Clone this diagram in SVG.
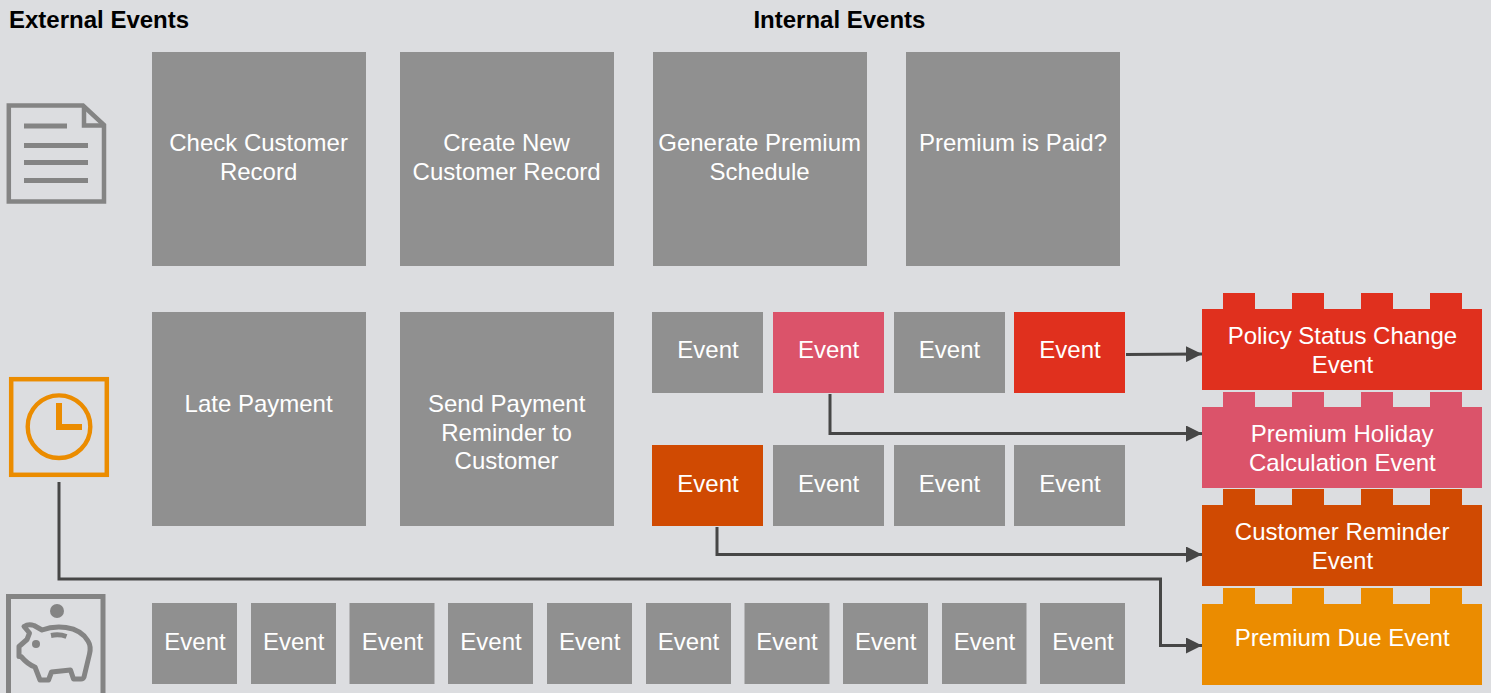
<svg xmlns="http://www.w3.org/2000/svg" width="1491" height="693" viewBox="0 0 1491 693">
<style>
text{font-family:"Liberation Sans",Arial,sans-serif}
.h{font-size:24px;font-weight:700;fill:#000}
.t{font-size:24px;fill:#fff;text-anchor:middle}
.g{fill:#909090}
.red{fill:#e0301e}.pink{fill:#db536a}.rust{fill:#d04a02}.amber{fill:#eb8c00}
.c{fill:none;stroke:#464646;stroke-width:3}
.ig{fill:none;stroke:#848484}
</style>
<defs>
<marker id="a" markerUnits="userSpaceOnUse" markerWidth="16" markerHeight="16" refX="16" refY="8" orient="auto"><path d="M0 0L16 8L0 16Z" fill="#464646"/></marker>
<path id="tabs" d="M21 0h32v17h-32zM90 0h32v17h-32zM159 0h32v17h-32zM228 0h32v17h-32z"/>
</defs>
<rect width="1491" height="693" fill="#dcdde0"/>
<text class="h" x="9" y="28">External Events</text>
<text class="h" x="753.400" y="28">Internal Events</text>
<g id="icon-document" class="ig"><path d="M8.800 105.500H83L104 125V201.500H8.800Z" stroke-width="4.500"/><path d="M84 106V125.500H104" stroke-width="4.500"/><path d="M24 126H67M24 145.500H88M24 162.500H88M24 180.500H88" stroke-width="5"/></g>
<g id="icon-clock" style="fill:none;stroke:#eb8c00"><rect x="11.200" y="379.200" width="95.600" height="95.600" stroke-width="4.500"/><circle cx="59" cy="426.700" r="31.300" stroke-width="4.400"/><path d="M59 403V427H82" stroke-width="6"/></g>
<g id="icon-piggy" class="ig"><rect x="8.500" y="596.500" width="94.500" height="101" stroke-width="5"/><circle cx="57" cy="611" r="7" fill="#848484" stroke="none"/><path d="M24 626.500C27 624.500 31 624.500 34 625.500L42 630C50 627 58 626.500 66 627.500C76 629 84 634 88 641C90.500 645 90.500 650 89.500 654L84 677C83.500 678.500 82.500 679 81 679H73.500L70.500 670L51.500 672L48.500 680H40L35 667C29 665 24 660 21 656.500H19V646.500L27 639.500L29.500 633Z" stroke-width="5" stroke-linejoin="round"/><path d="M51 635.500C56 634.500 61 634.500 66.500 636.500" stroke-width="5"/><circle cx="36" cy="644" r="4" fill="#848484" stroke="none"/></g>
<g id="check-customer"><rect class="g" x="152" y="52" width="214" height="214"/><text class="t" x="258.600" y="151">Check Customer</text><text class="t" x="258.600" y="180">Record</text></g>
<g id="create-customer"><rect class="g" x="400" y="52" width="214" height="214"/><text class="t" x="506.600" y="151">Create New</text><text class="t" x="506.600" y="180">Customer Record</text></g>
<g id="generate-schedule"><rect class="g" x="653" y="52" width="214" height="214"/><text class="t" x="759.600" y="151">Generate Premium</text><text class="t" x="759.600" y="180">Schedule</text></g>
<g id="premium-paid"><rect class="g" x="906" y="52" width="214" height="214"/><text class="t" x="1013" y="151">Premium is Paid?</text></g>
<g id="late-payment"><rect class="g" x="152" y="312" width="214" height="214"/><text class="t" x="258.600" y="412">Late Payment</text></g>
<g id="send-reminder"><rect class="g" x="400" y="312" width="214" height="214"/><text class="t" x="506.600" y="412">Send Payment</text><text class="t" x="506.600" y="441">Reminder to</text><text class="t" x="506.600" y="469">Customer</text></g>
<g id="event-1"><rect class="g" x="652" y="312" width="111" height="81"/><text class="t" x="708" y="358">Event</text></g>
<g id="event-2"><rect class="pink" x="773" y="312" width="111" height="81"/><text class="t" x="828.600" y="358">Event</text></g>
<g id="event-3"><rect class="g" x="894" y="312" width="111" height="81"/><text class="t" x="949.500" y="358">Event</text></g>
<g id="event-4"><rect class="red" x="1014" y="312" width="111" height="81"/><text class="t" x="1070" y="358">Event</text></g>
<g id="event-5"><rect class="rust" x="652" y="445" width="111" height="81"/><text class="t" x="708" y="492">Event</text></g>
<g id="event-6"><rect class="g" x="773" y="445" width="111" height="81"/><text class="t" x="828.600" y="492">Event</text></g>
<g id="event-7"><rect class="g" x="894" y="445" width="111" height="81"/><text class="t" x="949.500" y="492">Event</text></g>
<g id="event-8"><rect class="g" x="1014" y="445" width="111" height="81"/><text class="t" x="1070" y="492">Event</text></g>
<g id="bottom-1"><rect class="g" x="152" y="603" width="85" height="81"/><text class="t" x="195" y="650">Event</text></g>
<g id="bottom-2"><rect class="g" x="251" y="603" width="85" height="81"/><text class="t" x="293.700" y="650">Event</text></g>
<g id="bottom-3"><rect class="g" x="349.500" y="603" width="85" height="81"/><text class="t" x="392.500" y="650">Event</text></g>
<g id="bottom-4"><rect class="g" x="448" y="603" width="85" height="81"/><text class="t" x="491" y="650">Event</text></g>
<g id="bottom-5"><rect class="g" x="547" y="603" width="85" height="81"/><text class="t" x="589.700" y="650">Event</text></g>
<g id="bottom-6"><rect class="g" x="646" y="603" width="85" height="81"/><text class="t" x="688.500" y="650">Event</text></g>
<g id="bottom-7"><rect class="g" x="744.500" y="603" width="85" height="81"/><text class="t" x="787" y="650">Event</text></g>
<g id="bottom-8"><rect class="g" x="843" y="603" width="85" height="81"/><text class="t" x="885.700" y="650">Event</text></g>
<g id="bottom-9"><rect class="g" x="942" y="603" width="84.500" height="81"/><text class="t" x="984.500" y="650">Event</text></g>
<g id="bottom-10"><rect class="g" x="1040" y="603" width="85" height="81"/><text class="t" x="1083" y="650">Event</text></g>
<g id="brick-policy" class="red"><use href="#tabs" x="1202" y="293"/><rect x="1202" y="309" width="280" height="81"/><text class="t" x="1342.400" y="344">Policy Status Change</text><text class="t" x="1342.400" y="373">Event</text></g>
<g id="brick-holiday" class="pink"><use href="#tabs" x="1202" y="392"/><rect x="1202" y="407" width="280" height="81"/><text class="t" x="1342.200" y="442">Premium Holiday</text><text class="t" x="1342.400" y="471">Calculation Event</text></g>
<g id="brick-reminder" class="rust"><use href="#tabs" x="1202" y="489"/><rect x="1202" y="505" width="280" height="81"/><text class="t" x="1342.200" y="540">Customer Reminder</text><text class="t" x="1342.400" y="569">Event</text></g>
<g id="brick-due" class="amber"><use href="#tabs" x="1202" y="588"/><rect x="1202" y="604" width="280" height="81"/><text class="t" x="1342.200" y="646">Premium Due Event</text></g>
<g id="connectors">
<path class="c" marker-end="url(#a)" d="M1126 354.500L1202 354"/>
<path class="c" marker-end="url(#a)" d="M830 394V433.500H1202"/>
<path class="c" marker-end="url(#a)" d="M717 527V554.500H1202"/>
<path class="c" marker-end="url(#a)" d="M59 482V579H1160.500V645.500H1202"/>
</g>
</svg>
